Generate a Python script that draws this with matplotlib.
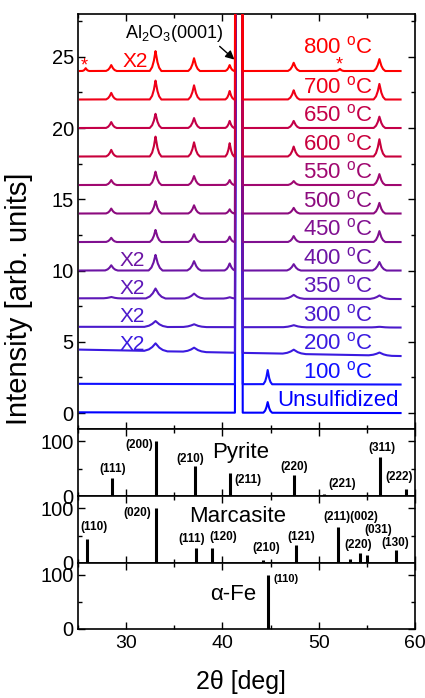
import numpy as np
import matplotlib
matplotlib.use("Agg")
import matplotlib.pyplot as plt
from matplotlib.ticker import MultipleLocator

plt.rcParams['font.family'] = ['Liberation Sans', 'DejaVu Sans']
plt.rcParams['mathtext.fontset'] = 'custom'
plt.rcParams['mathtext.rm'] = 'Liberation Sans'
plt.rcParams['mathtext.it'] = 'Liberation Sans:italic'
plt.rcParams['mathtext.bf'] = 'Liberation Sans:bold'

# ---------------- data ----------------
two_theta_range = [25.2, 58.5]
peak_positions = [25.8, 28.45, 33.05, 37.05, 40.75, 41.7, 44.7, 47.4, 52.2, 56.3]
peak_halfwidths = [0.35, 0.55, 0.6, 0.6, 0.45, 0.40, 0.45, 0.6, 0.4, 0.6]
substrate_index = 5
substrate_height = 400.0

curve_labels = ["Unsulfidized", "100 $^{\\rm o}$C", "200 $^{\\rm o}$C", "300 $^{\\rm o}$C",
                "350 $^{\\rm o}$C", "400 $^{\\rm o}$C", "450 $^{\\rm o}$C", "500 $^{\\rm o}$C",
                "550 $^{\\rm o}$C", "600 $^{\\rm o}$C", "650 $^{\\rm o}$C", "700 $^{\\rm o}$C",
                "800 $^{\\rm o}$C"]
curve_offsets = [0, 2, 4, 6, 8, 10, 12, 14, 16, 18, 20, 22, 24]
curve_tilt_left = [0.05, 0.05, 0.45, 0.05, 0.05, 0.0, 0.0, 0.0, 0.0, 0.0, 0.0, 0.0, 0.0]
curve_width_factor = [1.0, 1.0, 2.0, 2.0, 1.7, 1.2, 1.0, 1.0, 1.0, 1.0, 1.0, 1.0, 1.0]
curve_colors = ["#0000FF", "#1010FF", "#3A1AE0", "#4A1ACC", "#5E18B8", "#6C14A4",
                "#801090", "#8C0A7E", "#A00870", "#C8003C", "#C40048", "#F00018", "#FF0000"]
# peak heights for each curve (order = peak_positions), substrate peak marked by -1
curve_heights = [
    [0, 0, 0, 0, 0, -1, 0.75, 0, 0, 0],
    [0, 0, 0, 0, 0, -1, 1.0, 0, 0, 0],
    [0, 0, 0.55, 0.3, 0, -1, 0, 0.3, 0, 0.22],
    [0, 0, 0.42, 0.2, 0, -1, 0, 0.15, 0, 0.05],
    [0, 0.1, 0.7, 0.35, 0.1, -1, 0, 0.28, 0, 0.25],
    [0, 0.37, 1.1, 0.66, 0.5, -1, 0, 0.45, 0, 0.6],
    [0, 0.3, 0.85, 0.55, 0.38, -1, 0, 0.42, 0, 0.77],
    [0, 0.35, 0.87, 0.58, 0.3, -1, 0, 0.4, 0, 0.75],
    [0, 0.35, 0.94, 0.63, 0.35, -1, 0, 0.28, 0, 0.77],
    [0, 0.47, 1.4, 1.0, 0.94, -1, 0, 0.7, 0, 1.22],
    [0, 0.42, 1.0, 0.7, 0.5, -1, 0, 0.5, 0, 0.8],
    [0, 0.47, 1.33, 1.0, 0.6, -1, 0, 0.65, 0, 1.1],
    [0.2, 0.42, 1.4, 0.9, 0.42, -1, 0, 0.58, 0.15, 0.84],
]
x2_curves = [2, 3, 4, 5, 12]

pyrite_pos = [28.5, 33.05, 37.1, 40.8, 47.45, 50.6, 56.35, 59.05]
pyrite_int = [32, 100, 55, 42, 38, 4, 71, 12]
pyrite_hkl = ["(111)", "(200)", "(210)", "(211)", "(220)", "(221)", "(311)", "(222)"]

marc_pos = [25.9, 33.06, 37.3, 38.9, 44.2, 47.6, 52.05, 53.3, 54.3, 55.0, 58.05]
marc_int = [43, 100, 28, 27, 6, 32, 65, 8, 18, 14, 23]
marc_labels = ["(110)", "(020)", "(111)", "(120)", "(210)", "(121)", "(211)(002)", "(220)", "(031)", "(130)"]

fe_pos = [44.75]
fe_int = [100]
fe_hkl = ["(110)"]

# ---------------- figure ----------------
fig = plt.figure(figsize=(4.25, 6.98), dpi=100)
L, W = 78 / 425, 337 / 425
H = 698.0
ax = fig.add_axes([L, 1 - 429 / H, W, 415 / H])
ax_p = fig.add_axes([L, 1 - 496 / H, W, 67 / H], sharex=ax)
ax_m = fig.add_axes([L, 1 - 563 / H, W, 67 / H], sharex=ax)
ax_f = fig.add_axes([L, 1 - 629 / H, W, 66 / H], sharex=ax)

x = np.linspace(two_theta_range[0], two_theta_range[1], 6000)


def peak(xg, p, hw, h):
    xs = [p - hw, p - 0.6 * hw, p - 0.3 * hw, p, p + 0.3 * hw, p + 0.6 * hw, p + hw]
    ys = [0, 0.18 * h, 0.48 * h, h, 0.48 * h, 0.18 * h, 0]
    return np.interp(xg, xs, ys, left=0, right=0)


for i, (off, hts) in enumerate(zip(curve_offsets, curve_heights)):
    y = off + curve_tilt_left[i] * (two_theta_range[1] - x) / (two_theta_range[1] - two_theta_range[0])
    for j, (p, hw, h) in enumerate(zip(peak_positions, peak_halfwidths, hts)):
        if j == substrate_index:
            y = y + peak(x, p, hw, substrate_height)
        elif h > 0:
            y = y + peak(x, p, hw * curve_width_factor[i], h)
    ax.plot(x, y, color=curve_colors[i], lw=1.5, zorder=2 + i)
    ly = off + 0.88 if i < 12 else off + 1.66
    ax.text(52.05, ly, curve_labels[i], color=curve_colors[i], fontsize=16,
            ha='center', va='center')

x2_y = {2: 4.83, 3: 6.8, 4: 8.75, 5: 10.7, 12: 24.65}
for i in x2_curves:
    xx = 30.9 if i == 12 else 30.6
    ax.text(xx, x2_y[i], "X2", color=curve_colors[i], fontsize=15, ha='center', va='center')

ax.text(25.7, 24.35, "*", color="#FF0000", fontsize=13, ha='center', va='center')
ax.text(52.15, 24.4, "*", color="#FF0000", fontsize=13, ha='center', va='center')
ax.annotate("Al$_2$O$_3$(0001)", xy=(41.25, 24.8), xytext=(35.0, 26.66),
            fontsize=13, ha='center', va='center',
            arrowprops=dict(arrowstyle='-|>', color='black', lw=1.0,
                            shrinkA=0, shrinkB=0, relpos=(0.93, 0.0)))

ax.set_xlim(25, 60)
ax.set_ylim(-1.12, 28)
ax.yaxis.set_major_locator(MultipleLocator(5))
ax.yaxis.set_minor_locator(MultipleLocator(2.5))

# reference stick panels
for a, pos, inten in [(ax_p, pyrite_pos, pyrite_int), (ax_m, marc_pos, marc_int), (ax_f, fe_pos, fe_int)]:
    a.vlines(pos, 0, inten, color='black', lw=2.2)
    a.set_ylim(0, 122)
    a.set_yticks([0, 100])
    a.yaxis.set_minor_locator(MultipleLocator(50))

pyr_lab_xy = [(28.6, 49.5), (31.35, 92), (36.7, 67.6), (42.7, 29.5), (47.5, 53.6),
              (52.4, 21), (56.6, 87.6), (58.4, 34)]
for t, (lx, lyy) in zip(pyrite_hkl, pyr_lab_xy):
    ax_p.text(lx, lyy, t, fontsize=8.5, fontweight='bold', ha='center', va='center')
ax_p.text(41.9, 80, "Pyrite", fontsize=16, ha='center', va='center')

marc_lab_xy = [(26.7, 65), (31.2, 91), (36.85, 43), (40.07, 46.7), (44.5, 26.5),
               (48.2, 48), (53.3, 83), (54.1, 32.5), (56.2, 60), (58.0, 35.7)]
for t, (lx, lyy) in zip(marc_labels, marc_lab_xy):
    ax_m.text(lx, lyy, t, fontsize=8.5, fontweight='bold', ha='center', va='center')
ax_m.text(41.55, 85, "Marcasite", fontsize=16, ha='center', va='center')

ax_f.text(46.65, 92, fe_hkl[0], fontsize=8, fontweight='bold', ha='center', va='center')
ax_f.text(41.1, 63, "\u03b1-Fe", fontsize=16, ha='center', va='center')

ax.xaxis.set_major_locator(MultipleLocator(10))
ax.xaxis.set_minor_locator(MultipleLocator(5))

for a in [ax, ax_p, ax_m, ax_f]:
    for s in a.spines.values():
        s.set_linewidth(1.2)
    a.tick_params(which='both', direction='in', top=True, right=True, width=1.0)
    a.tick_params(which='major', length=5, labelsize=14.5, pad=3)
    a.tick_params(which='minor', length=3)
    if a is not ax_f:
        a.tick_params(labelbottom=False)

ax_f.tick_params(axis='x', pad=4, labelsize=14)

fig.text(0.045, 0.572, "Intensity [arb. units]", rotation=90, fontsize=21, ha='center', va='center')
fig.text(0.568, 0.0234, "2\u03b8 [deg]", fontsize=18, ha='center', va='center')

fig.savefig("out.png", dpi=100)
